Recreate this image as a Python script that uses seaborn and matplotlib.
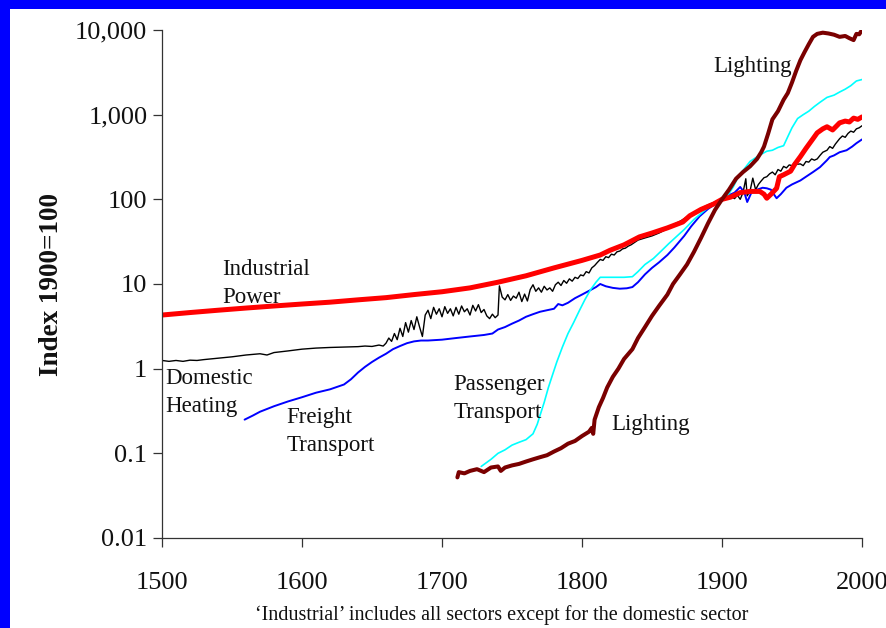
import matplotlib
matplotlib.use("Agg")
import matplotlib.pyplot as plt
import matplotlib.ticker as mticker
from matplotlib.patches import Rectangle
import seaborn as sns
import pandas as pd

# ---------------- data (index, 1900 = 100) ----------------
power_years = [1500, 1520, 1540, 1560, 1580, 1600, 1620, 1640, 1660, 1680, 1700, 1720, 1740,
               1760, 1780, 1800, 1813, 1820, 1830, 1841, 1850, 1861, 1872, 1877, 1885, 1894,
               1900, 1906, 1913, 1920, 1927, 1930, 1932, 1935, 1939, 1941, 1944, 1949, 1952,
               1956, 1960, 1965, 1968, 1972, 1975, 1979, 1982, 1984, 1988, 1991, 1994, 1997, 2000]
power_vals = [4.3, 4.6, 4.9, 5.2, 5.5, 5.8, 6.1, 6.5, 6.9, 7.5, 8.1, 9.0, 10.5,
              12.5, 15.5, 19, 22, 25, 29, 36, 40, 46, 54, 64, 76, 88,
              100, 106, 120, 124, 124, 115, 103, 115, 135, 185, 195, 215, 260,
              320, 400, 520, 610, 680, 720, 660, 740, 800, 840, 820, 910, 880, 940]

heat_years = [1500, 1505, 1510, 1515, 1520, 1525, 1530, 1540, 1550, 1560, 1570, 1575, 1580, 1590,
              1600, 1610, 1620, 1630, 1640, 1645, 1650, 1655, 1658, 1660, 1662, 1664, 1666, 1668,
              1670, 1672, 1674, 1676, 1678, 1680, 1682, 1684, 1686, 1688, 1690, 1692, 1694, 1696,
              1698, 1700, 1702, 1704, 1706, 1708, 1710, 1712, 1714, 1716, 1718, 1720, 1722, 1724,
              1726, 1728, 1730, 1732, 1734, 1736, 1738, 1740, 1741, 1743, 1745, 1747, 1749, 1751,
              1753, 1755, 1757, 1759, 1761, 1763, 1765, 1767, 1769, 1771, 1773, 1775, 1777, 1779,
              1781, 1783, 1785, 1787, 1789, 1791, 1793, 1795, 1797, 1799, 1801, 1803, 1805, 1807,
              1809, 1811, 1813, 1815, 1817, 1819, 1821, 1823, 1825, 1827, 1829, 1831, 1833, 1835,
              1837, 1840, 1845, 1850, 1855, 1860, 1865, 1870, 1875, 1880, 1885, 1890, 1895, 1900,
              1903, 1906, 1909, 1911, 1913, 1915, 1917, 1918, 1920, 1922, 1924, 1926, 1928, 1930,
              1932, 1934, 1936, 1938, 1940, 1942, 1944, 1946, 1948, 1950, 1952, 1954, 1956, 1958,
              1960, 1962, 1964, 1966, 1968, 1970, 1972, 1975, 1977, 1979, 1981, 1984, 1986, 1988,
              1990, 1992, 1994, 1996, 1998, 2000]
heat_vals = [1.25, 1.22, 1.25, 1.22, 1.26, 1.25, 1.28, 1.33, 1.38, 1.45, 1.5, 1.45, 1.55, 1.62,
             1.7, 1.75, 1.78, 1.8, 1.82, 1.85, 1.83, 1.9, 1.85, 2.0, 2.3, 2.1, 2.6, 2.2,
             3.0, 2.4, 3.5, 2.7, 3.7, 2.9, 4.1, 3.1, 2.4, 4.3, 4.9, 3.9, 5.3, 4.4,
             5.1, 4.1, 5.4, 4.5, 5.1, 4.2, 5.3, 4.4, 5.5, 4.7, 5.1, 4.3, 5.6, 4.8,
             5.7, 4.6, 5.0, 4.2, 3.9, 4.4, 4.0, 4.3, 9.5, 7.0, 6.5, 7.5, 6.4, 7.2,
             6.8, 8.0, 6.2, 7.6, 6.3, 8.6, 9.8, 8.2, 9.0, 8.0, 9.4, 8.5, 9.0, 8.2,
             9.8, 10.5, 9.6, 11.0, 10.2, 11.5, 10.8, 12.0, 11.6, 12.8, 12.5, 14.0, 13.5, 15.5,
             16.5, 18.0, 19.5, 19.0, 21.0, 20.5, 22.5, 22.0, 24.0, 24.5, 26.0, 26.5, 28.0, 29.0,
             30.5, 33, 35, 37, 40, 44, 50, 55, 62, 70, 78, 86, 93, 100,
             105, 108, 102, 112, 100, 120, 175, 110, 125, 178, 130, 150, 165, 180,
             185, 200, 210, 195, 225, 215, 245, 235, 255, 250, 275, 260, 262, 250,
             280, 275, 300, 290, 300, 330, 360, 380, 420, 400, 450, 520, 560, 540,
             600, 640, 620, 680, 700, 740]

freight_years = [1559, 1565, 1570, 1580, 1590, 1600, 1610, 1620, 1630, 1635, 1640, 1645, 1650,
                 1655, 1660, 1665, 1670, 1675, 1680, 1685, 1690, 1700, 1710, 1720, 1730, 1736,
                 1740, 1745, 1750, 1755, 1760, 1765, 1770, 1775, 1780, 1783, 1786, 1790, 1795,
                 1800, 1805, 1810, 1813, 1817, 1822, 1827, 1832, 1836, 1840, 1845, 1850, 1855,
                 1861, 1866, 1873, 1878, 1884, 1890, 1896, 1900, 1905, 1909, 1913, 1916, 1918,
                 1921, 1925, 1929, 1932, 1935, 1937, 1939, 1942, 1946, 1950, 1956, 1960, 1965,
                 1970, 1975, 1977, 1980, 1984, 1989, 1993, 1996, 2000]
freight_vals = [0.25, 0.28, 0.31, 0.36, 0.41, 0.46, 0.52, 0.57, 0.65, 0.75, 0.9, 1.05, 1.2,
                1.35, 1.5, 1.7, 1.85, 2.0, 2.1, 2.15, 2.15, 2.2, 2.3, 2.4, 2.5, 2.6,
                2.9, 3.1, 3.4, 3.7, 4.1, 4.4, 4.7, 4.9, 5.1, 5.8, 5.6, 6.0, 6.8,
                7.5, 8.3, 9.2, 10, 9.4, 9.0, 8.8, 8.9, 9.2, 10.5, 13, 15.5, 18,
                22, 27, 37, 48, 63, 77, 90, 100, 112, 120, 140, 120, 93,
                120, 130, 137, 135, 130, 115, 103, 115, 137, 150, 167, 185, 210,
                240, 290, 316, 330, 360, 380, 420, 460, 510]

passenger_years = [1728, 1735, 1740, 1745, 1750, 1755, 1760, 1765, 1768, 1770, 1773, 1776, 1779,
                   1782, 1786, 1790, 1794, 1798, 1802, 1806, 1810, 1813, 1820, 1830, 1836, 1840,
                   1845, 1851, 1856, 1862, 1868, 1873, 1880, 1885, 1890, 1896, 1900, 1904, 1908,
                   1912, 1916, 1920, 1924, 1928, 1932, 1936, 1940, 1944, 1947, 1950, 1954, 1958,
                   1962, 1966, 1970, 1975, 1980, 1984, 1988, 1992, 1996, 2000]
passenger_vals = [0.07, 0.085, 0.1, 0.11, 0.125, 0.135, 0.145, 0.17, 0.22, 0.28, 0.4, 0.6, 0.85,
                  1.2, 1.8, 2.6, 3.5, 4.8, 6.5, 8.5, 10.5, 12, 12, 12, 12.2, 14,
                  17, 20, 24, 30, 37, 44, 58, 68, 80, 95, 100, 110, 140,
                  190, 230, 280, 310, 340, 370, 380, 410, 430, 550, 700, 900, 1000,
                  1100, 1250, 1400, 1600, 1700, 1850, 2000, 2200, 2500, 2600]

light_years = [1711, 1712, 1716, 1720, 1725, 1730, 1735, 1740, 1742, 1745, 1750, 1755, 1760,
               1765, 1770, 1775, 1780, 1785, 1790, 1795, 1800, 1805, 1807, 1808, 1809, 1812,
               1815, 1818, 1822, 1826, 1830, 1836, 1840, 1845, 1850, 1855, 1861, 1865, 1870,
               1875, 1880, 1885, 1890, 1895, 1900, 1905, 1910, 1915, 1920, 1925, 1928, 1930,
               1933, 1936, 1940, 1944, 1947, 1950, 1953, 1956, 1959, 1962, 1965, 1968, 1972,
               1976, 1980, 1984, 1988, 1991, 1994, 1996, 1998, 2000]
light_vals = [0.052, 0.06, 0.058, 0.062, 0.065, 0.06, 0.068, 0.07, 0.062, 0.068, 0.072, 0.075, 0.08,
              0.085, 0.09, 0.095, 0.105, 0.115, 0.13, 0.14, 0.16, 0.18, 0.2, 0.17, 0.25, 0.35,
              0.45, 0.6, 0.8, 1.0, 1.3, 1.7, 2.3, 3.1, 4.2, 5.5, 7.5, 10, 13,
              17, 24, 35, 52, 75, 100, 130, 175, 210, 245, 300, 360, 420,
              600, 880, 1100, 1500, 1800, 2400, 3300, 4400, 5500, 6800, 8300, 9000, 9300,
              9100, 8800, 8300, 8500, 8000, 7600, 9000, 8900, 10000]

y_ticks = [0.01, 0.1, 1, 10, 100, 1000, 10000]
y_tick_labels = ["0.01", "0.1", "1", "10", "100", "1,000", "10,000"]
x_ticks = [1500, 1600, 1700, 1800, 1900, 2000]

# ---------------- styling ----------------
sns.set_theme(style="ticks")
plt.rcParams["font.family"] = ["Liberation Serif", "DejaVu Serif"]

W, H = 887, 628
fig = plt.figure(figsize=(W / 100, H / 100), dpi=100)
fig.patch.set_facecolor("white")
# blue frame (left and top)
fig.patches.append(Rectangle((0, 0), 10 / W, 1, transform=fig.transFigure,
                             facecolor="#0000FF", edgecolor="none", zorder=0))
fig.patches.append(Rectangle((0, 1 - 9 / H), 1, 9 / H, transform=fig.transFigure,
                             facecolor="#0000FF", edgecolor="none", zorder=0))

ax = fig.add_axes([162 / W, 1 - 538 / H, 700 / W, 508 / H])
ax.set_facecolor("none")

series = [
    (heat_years, heat_vals, "black", 1.0),
    (freight_years, freight_vals, "#0000FF", 1.4),
    (passenger_years, passenger_vals, "#00FFFF", 1.2),
    (power_years, power_vals, "#FF0000", 3.6),
    (light_years, light_vals, "#7A0000", 2.9),
]
for yrs, vals, col, lw in series:
    df = pd.DataFrame({"year": yrs, "value": vals})
    sns.lineplot(data=df, x="year", y="value", ax=ax, color=col, linewidth=lw,
                 estimator=None, sort=False)

ax.set_yscale("log")
ax.set_xlim(1500, 2000)
ax.set_ylim(0.01, 10000)
ax.set_yticks(y_ticks)
ax.set_yticklabels(y_tick_labels)
ax.yaxis.set_minor_locator(mticker.NullLocator())
ax.set_xticks(x_ticks)
ax.set_xticklabels([str(x) for x in x_ticks])

for s in ["top", "right"]:
    ax.spines[s].set_visible(False)
for s in ["left", "bottom"]:
    ax.spines[s].set_color("#333333")
    ax.spines[s].set_linewidth(0.9)
ax.tick_params(axis="both", direction="out", length=6.5, width=0.9, color="#333333",
               labelsize=19, labelcolor="#111111")
ax.tick_params(axis="x", pad=18)
ax.tick_params(axis="y", pad=4)

ax.set_xlabel("")
ax.set_ylabel("Index 1900=100", fontsize=19.5, fontweight="bold", color="#111111")
ax.yaxis.set_label_coords(-0.14, 0.5)

lab = dict(fontsize=16.5, color="#111111", ha="left", va="top", linespacing=1.45)
ax.text(1543, 20, "Industrial\nPower", **lab)
ax.text(1502, 1.02, "Domestic\nHeating", **lab)
ax.text(1589, 0.35, "Freight\nTransport", **lab)
ax.text(1708, 0.87, "Passenger\nTransport", **lab)
ax.text(1821, 0.29, "Lighting", **lab)
ax.text(1894, 4900, "Lighting", **lab)

fig.text(502 / W, 1 - 605 / H,
         "\u2018Industrial\u2019 includes all sectors except for the domestic sector",
         ha="center", va="top", fontsize=14.5, color="#111111")

fig.savefig("out.png", dpi=100, facecolor=fig.get_facecolor())
